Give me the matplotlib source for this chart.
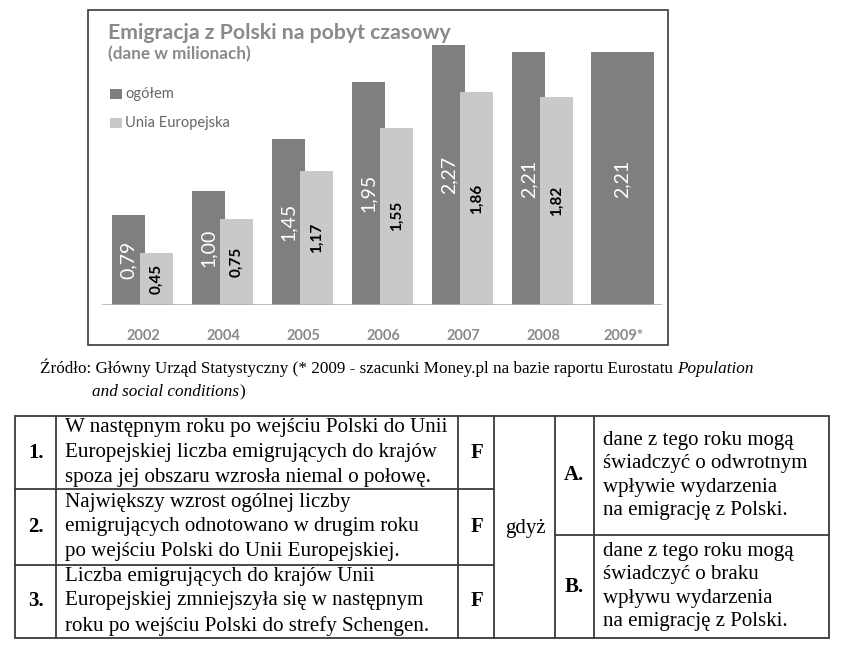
import matplotlib
matplotlib.use("Agg")
import matplotlib.pyplot as plt
from matplotlib.patches import Rectangle

# dane z wykresu (mln osob)
lata = ["2002", "2004", "2005", "2006", "2007", "2008", "2009*"]
ogolem = [0.79, 1.00, 1.45, 1.95, 2.27, 2.21, 2.21]
unia = [0.45, 0.75, 1.17, 1.55, 1.86, 1.82]  # brak danych UE dla 2009

tytul = "Emigracja z Polski na pobyt czasowy"
podtytul = "(dane w milionach)"
legenda = ["ogółem", "Unia Europejska"]

zrodlo1 = "Źródło: Główny Urząd Statystyczny (* 2009 - szacunki Money.pl na bazie raportu Eurostatu "
zrodlo1_it = "Population"
zrodlo2_it = "and social conditions"

nr = ["1.", "2.", "3."]
zdania = [
    "W następnym roku po wejściu Polski do Unii\nEuropejskiej liczba emigrujących do krajów\nspoza jej obszaru wzrosła niemal o połowę.",
    "Największy wzrost ogólnej liczby\nemigrujących odnotowano w drugim roku\npo wejściu Polski do Unii Europejskiej.",
    "Liczba emigrujących do krajów Unii\nEuropejskiej zmniejszyła się w następnym\nroku po wejściu Polski do strefy Schengen.",
]
odp = ["F", "F", "F"]
litery = ["A.", "B."]
uzasadnienia = [
    "dane z tego roku mogą\nświadczyć o odwrotnym\nwpływie wydarzenia\nna emigrację z Polski.",
    "dane z tego roku mogą\nświadczyć o braku\nwpływu wydarzenia\nna emigrację z Polski.",
]

DARK = "#7f7f7f"
LIGHT = "#c9c9c9"
GREY_TXT = "#8a8a8a"
LINE = "#3a3a3a"
W, H = 852, 646

fig = plt.figure(figsize=(W / 100, H / 100), dpi=100)

# tlo w pikselach (y w dol)
bg = fig.add_axes([0, 0, 1, 1])
bg.set_xlim(0, W)
bg.set_ylim(H, 0)
bg.axis("off")

# ramka wykresu
bg.add_patch(Rectangle((88, 10), 580, 335, fill=False, ec=LINE, lw=1.2))

bg.text(108, 39, tytul, fontfamily="Lato", fontweight="bold", fontsize=15.3,
        color=GREY_TXT, va="baseline")
bg.text(108, 59, podtytul, fontfamily="Lato", fontweight="bold", fontsize=12.3,
        color=GREY_TXT, va="baseline")
for k, (lab, col) in enumerate(zip(legenda, [DARK, LIGHT])):
    y0 = 89 + k * 29
    bg.add_patch(Rectangle((110, y0), 12, 10, color=col, lw=0))
    bg.text(125, y0 + 9, lab, fontfamily="Lato", fontsize=10.5,
            color="#666666", va="baseline")

# wykres slupkowy
px_l, px_r, px_b, px_t = 102, 662, 305, 45
ax = fig.add_axes([px_l / W, 1 - px_b / H, (px_r - px_l) / W, (px_b - px_t) / H])
ax.patch.set_alpha(0)
ax.set_ylim(0, (px_b - px_t) / 114.5)
ax.set_xlim((px_l - 143) / 80, (px_r - 143) / 80)
for s in ax.spines.values():
    s.set_visible(False)
ax.set_yticks([])
ax.axhline(0, color="#b0b0b0", lw=1.2, xmin=0, xmax=1)

x = list(range(len(lata)))
bw = 0.41
for i, v in enumerate(ogolem):
    if i < len(unia):
        xc, w = x[i] - 0.18, bw
    else:
        xc, w = x[i] - 0.01, 0.79
    ax.bar(xc, v, width=w, color=DARK, lw=0)
    ax.text(xc, v / 2, f"{v:.2f}".replace(".", ","), rotation=90, ha="center",
            va="center", color="white", fontfamily="Lato", fontsize=14)
for i, v in enumerate(unia):
    xc = x[i] + 0.17
    ax.bar(xc, v, width=bw, color=LIGHT, lw=0)
    ax.text(xc, v / 2, f"{v:.2f}".replace(".", ","), rotation=90, ha="center",
            va="center", color="black", fontfamily="Lato", fontweight="bold",
            fontsize=11)

ax.set_xticks(x)
ax.set_xticklabels(lata, fontfamily="Lato", fontweight="bold", fontsize=10.5,
                   color=GREY_TXT)
ax.tick_params(axis="x", length=0, pad=17)

# zrodlo
ser = "Liberation Serif"
fz = 12.3
t1 = bg.text(40, 373, zrodlo1, fontfamily=ser, fontsize=fz, va="baseline")
fig.canvas.draw()
r = fig.canvas.get_renderer()
bb = t1.get_window_extent(r)
bg.text(bb.x1, 373, zrodlo1_it, fontfamily=ser, fontstyle="italic",
        fontsize=fz, va="baseline")
t2 = bg.text(92, 396, zrodlo2_it, fontfamily=ser, fontstyle="italic",
             fontsize=fz, va="baseline")
bb2 = t2.get_window_extent(r)
bg.text(bb2.x1, 396, ")", fontfamily=ser, fontsize=fz, va="baseline")

# tabela
top, bot = 416, 638
rows = [416, 489, 565, 638]
cols = [15, 56, 458, 494, 555, 594, 829]
ab = 535
lw = 1.3
bg.add_patch(Rectangle((cols[0], top), cols[-1] - cols[0], bot - top,
                       fill=False, ec=LINE, lw=lw))
for c in cols[1:-1]:
    bg.plot([c, c], [top, bot], color=LINE, lw=lw)
for rr in rows[1:-1]:
    bg.plot([cols[0], cols[3]], [rr, rr], color=LINE, lw=lw)
bg.plot([cols[4], cols[6]], [ab, ab], color=LINE, lw=lw)

fs = 15
for i in range(3):
    yc = (rows[i] + rows[i + 1]) / 2
    bg.text(36, yc, nr[i], fontfamily=ser, fontweight="bold", fontsize=fs,
            ha="center", va="center")
    bg.text(65, yc, zdania[i], fontfamily=ser, fontsize=15.1, va="center",
            linespacing=1.4)
    bg.text(477, yc, odp[i], fontfamily=ser, fontweight="bold", fontsize=fs,
            ha="center", va="center")
bg.text(525, 528, "gdyż", fontfamily=ser, fontsize=fs, ha="center", va="center")
for k, (yy0, yy1) in enumerate([(top, ab), (ab, bot)]):
    yc = (yy0 + yy1) / 2
    bg.text(574, yc, litery[k], fontfamily=ser, fontweight="bold", fontsize=fs,
            ha="center", va="center")
    bg.text(603, yc, uzasadnienia[k], fontfamily=ser, fontsize=fs, va="center",
            linespacing=1.31)

fig.savefig("out.png", dpi=100)
